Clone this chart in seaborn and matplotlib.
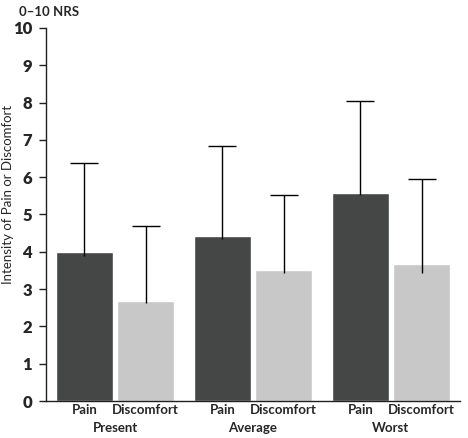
import matplotlib
matplotlib.use("Agg")
import matplotlib.pyplot as plt
import seaborn as sns
import pandas as pd
import numpy as np

groups = ["Present", "Average", "Worst"]
measures = ["Pain", "Discomfort"]
pain_mean = [4.0, 4.42, 5.58]
disc_mean = [2.68, 3.51, 3.67]
pain_sd = [2.37, 2.42, 2.45]
disc_sd = [2.0, 2.0, 2.27]
pain_low = [0.1, 0.07, 0.06]
disc_low = [0.06, 0.07, 0.23]

df = pd.DataFrame({
    "group": groups * 2,
    "measure": ["Pain"] * 3 + ["Discomfort"] * 3,
    "value": pain_mean + disc_mean,
})

sns.set_style("ticks")
plt.rcParams["font.family"] = ["Lato", "DejaVu Sans"]

fig = plt.figure(figsize=(4.68, 4.38), dpi=100)
ax = fig.add_axes([46 / 468, 1 - 401 / 438, (460 - 46) / 468, (401 - 28) / 438])

palette = {"Pain": "#454746", "Discomfort": "#c8c8c8"}
sns.barplot(data=df, x="group", y="value", hue="measure", order=groups,
            hue_order=measures, palette=palette, width=0.89, gap=0.075,
            saturation=1, ax=ax, legend=False, errorbar=None)

# error bars from bar patches: upper cap only, short stub below the bar top
means = {"Pain": pain_mean, "Discomfort": disc_mean}
sds = {"Pain": pain_sd, "Discomfort": disc_sd}
lows = {"Pain": pain_low, "Discomfort": disc_low}
centers = []
labels_minor = []
for container, m in zip(ax.containers, measures):
    for i, bar in enumerate(container):
        cx = bar.get_x() + bar.get_width() / 2
        centers.append(cx)
        labels_minor.append(m)
        _, caps, _ = ax.errorbar(cx, means[m][i], yerr=[[lows[m][i]], [sds[m][i]]],
                                 fmt="none", ecolor="black", elinewidth=1.0,
                                 capsize=10, capthick=1.0, zorder=5)
        caps[0].set_visible(False)

order = np.argsort(centers)
centers = [centers[k] for k in order]
labels_minor = [labels_minor[k] for k in order]

ax.set_ylim(0, 10)
ax.set_xlim(-0.5, 2.5)
ax.set_yticks(range(0, 11))
ax.set_yticklabels([str(v) for v in range(0, 11)], fontsize=12, fontweight="heavy")
ax.tick_params(axis="y", length=5, width=1, color="#231f20", pad=5)

lab_font = dict(fontsize=9.5, fontweight="bold")
ax.set_xticks(range(len(groups)))
ax.set_xticklabels(groups, **lab_font)
ax.tick_params(axis="x", which="major", length=0, pad=15)
ax.set_xticks(centers, minor=True)
ax.set_xticklabels(labels_minor, minor=True, **lab_font)
ax.tick_params(axis="x", which="minor", length=0, pad=2)

ax.set_xlabel("")
ax.set_ylabel("Intensity of Pain or Discomfort", fontsize=9.5)
ax.yaxis.set_label_coords(-0.078, 0.555)
for s in ["left", "bottom"]:
    ax.spines[s].set_color("#231f20")
    ax.spines[s].set_linewidth(1)
sns.despine(ax=ax)

fig.text(19 / 468, 1 - 12 / 438, "0\u201310 NRS", fontsize=9.5,
         fontweight="bold", va="center", ha="left")

fig.savefig("out.png", dpi=100)
